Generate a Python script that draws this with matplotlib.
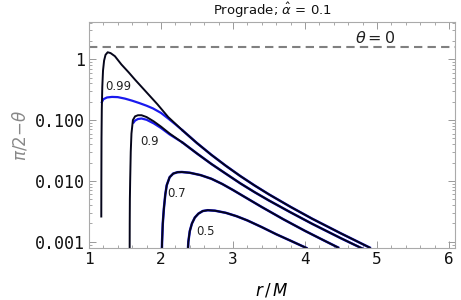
import numpy as np
import matplotlib
matplotlib.use("Agg")
import matplotlib.pyplot as plt
from matplotlib.ticker import FixedLocator, FuncFormatter, LogLocator, NullFormatter, MultipleLocator

plt.rcParams['mathtext.fontset'] = 'dejavusans'

# ---- data ----
x_b99 = [1.171, 1.172, 1.174, 1.178, 1.185, 1.195, 1.21, 1.23, 1.26, 1.30, 1.36, 1.45, 1.55, 1.64,
         1.80, 1.95, 2.10, 2.30, 2.50, 2.70, 2.90, 3.10, 3.30, 3.50, 3.80, 4.10, 4.50, 4.90]
y_b99 = [0.0026, 0.01, 0.05, 0.15, 0.35, 0.65, 0.95, 1.18, 1.30, 1.26, 1.12, 0.82, 0.61, 0.46,
         0.285, 0.182, 0.112, 0.0675, 0.0418, 0.0268, 0.01774, 0.01205, 0.00841, 0.0060, 0.00374,
         0.00239, 0.00137, 0.0008]

x_u99 = [1.172, 1.20, 1.25, 1.32, 1.40, 1.50, 1.60, 1.70, 1.80, 1.89, 2.00, 2.10, 2.20, 2.30]
y_u99 = [0.19, 0.22, 0.235, 0.24, 0.238, 0.225, 0.208, 0.19, 0.172, 0.155, 0.131, 0.106, 0.085, 0.0675]

x_b90 = [1.565, 1.566, 1.568, 1.572, 1.58, 1.59, 1.61, 1.64, 1.68, 1.73, 1.80, 1.90, 2.00, 2.12,
         2.30, 2.50, 2.70, 2.90, 3.10, 3.30, 3.50, 3.80, 4.10, 4.50, 4.80]
y_b90 = [0.0007, 0.002, 0.005, 0.01, 0.03, 0.06, 0.10, 0.115, 0.12, 0.12, 0.112, 0.095, 0.078, 0.060,
         0.0426, 0.0282, 0.01897, 0.01315, 0.00914, 0.00653, 0.00476, 0.00304, 0.00197, 0.00114, 0.00077]

x_u90 = [1.61, 1.64, 1.68, 1.73, 1.80, 1.90, 2.00, 2.12, 2.30]
y_u90 = [0.088, 0.098, 0.104, 0.106, 0.101, 0.088, 0.074, 0.058, 0.0426]

x_b70 = [2.012, 2.015, 2.025, 2.04, 2.06, 2.08, 2.12, 2.17, 2.23, 2.29, 2.40, 2.55, 2.70, 2.85,
         3.00, 3.20, 3.40, 3.70, 4.00, 4.25, 4.46]
y_b70 = [0.0007, 0.001, 0.002, 0.0035, 0.006, 0.0085, 0.0115, 0.0132, 0.0139, 0.0140, 0.01361,
         0.01245, 0.01084, 0.00891, 0.00708, 0.00513, 0.00372, 0.00234, 0.00151, 0.00107, 0.000804]

x_b50 = [2.373, 2.38, 2.40, 2.43, 2.47, 2.52, 2.58, 2.65, 2.75, 2.90, 3.05, 3.20, 3.40, 3.60, 3.80, 4.02]
y_b50 = [0.0007, 0.001, 0.0015, 0.0020, 0.0025, 0.0029, 0.0032, 0.0033, 0.00324, 0.00299, 0.00263,
         0.00224, 0.00174, 0.00133, 0.00104, 0.00079]

labels = ["0.99", "0.9", "0.7", "0.5"]
label_x = [1.41, 1.84, 2.22, 2.62]
label_y = [0.36, 0.0436, 0.0062, 0.0015]

theta0 = np.pi / 2
title = r"Prograde; $\hat{\alpha}$ = 0.1"

# ---- figure ----
fig = plt.figure(figsize=(4.61, 3.0), dpi=100)
ax = fig.add_axes([0.193, 0.173, 0.794, 0.754])

blue = '#1a1aee'
ax.plot(x_u99, y_u99, color=blue, lw=1.6, solid_capstyle='butt')
ax.plot(x_u90, y_u90, color=blue, lw=1.6, solid_capstyle='butt')
# blue lying under the black curves where they coincide
for xs, ys in [(x_b70, y_b70), (x_b50, y_b50), (x_b99[17:], y_b99[17:]), (x_b90[14:], y_b90[14:])]:
    ax.plot(xs, ys, color=blue, lw=1.8)
for xs, ys in [(x_b99, y_b99), (x_b90, y_b90), (x_b70, y_b70), (x_b50, y_b50)]:
    ax.plot(xs, ys, color='#05051a', lw=1.4)

ax.axhline(theta0, color='#808080', lw=1.5, ls=(0, (4, 2.5)))
ax.text(4.97, 2.2, r"$\theta = 0$", fontsize=11.5, ha='center', va='center', color='#222222')

for t, lx, ly in zip(labels, label_x, label_y):
    ax.text(lx, ly, t, fontsize=8.5, ha='center', va='center', color='#222222')

ax.set_yscale('log')
ax.set_xlim(1.0, 6.083)
ax.set_ylim(0.000787, 4.1)

ax.yaxis.set_major_locator(FixedLocator([0.001, 0.01, 0.1, 1]))
ax.yaxis.set_major_formatter(FuncFormatter(lambda v, p: {0.001: '0.001', 0.01: '0.010', 0.1: '0.100', 1: '1'}.get(round(v, 6), '')))
ax.yaxis.set_minor_locator(LogLocator(base=10, subs=np.arange(2, 10)))
ax.yaxis.set_minor_formatter(NullFormatter())
ax.xaxis.set_major_locator(MultipleLocator(1))
ax.xaxis.set_minor_locator(MultipleLocator(0.2))

ax.tick_params(which='both', direction='in', top=True, right=True, color='#999999')
ax.tick_params(which='major', length=5, width=0.7)
ax.tick_params(which='minor', length=2.5, width=0.6)
for lab in ax.get_yticklabels():
    lab.set_fontfamily('DejaVu Sans Mono')
    lab.set_fontsize(12)
for lab in ax.get_xticklabels():
    lab.set_fontfamily('DejaVu Sans Mono')
    lab.set_fontsize(11.5)
ax.tick_params(axis='both', pad=3, labelcolor='#111111')
for s in ax.spines.values():
    s.set_color('#aaaaaa')
    s.set_linewidth(0.8)

ax.set_title(title, fontsize=9.5, pad=5, color='#111111')
ax.set_xlabel(r"$r\,/\,M$", fontsize=12, labelpad=10)
ax.set_ylabel(r"$\pi$/2$-\theta$", fontsize=12, color='#888888', labelpad=4)

fig.savefig("out.png", dpi=100)
